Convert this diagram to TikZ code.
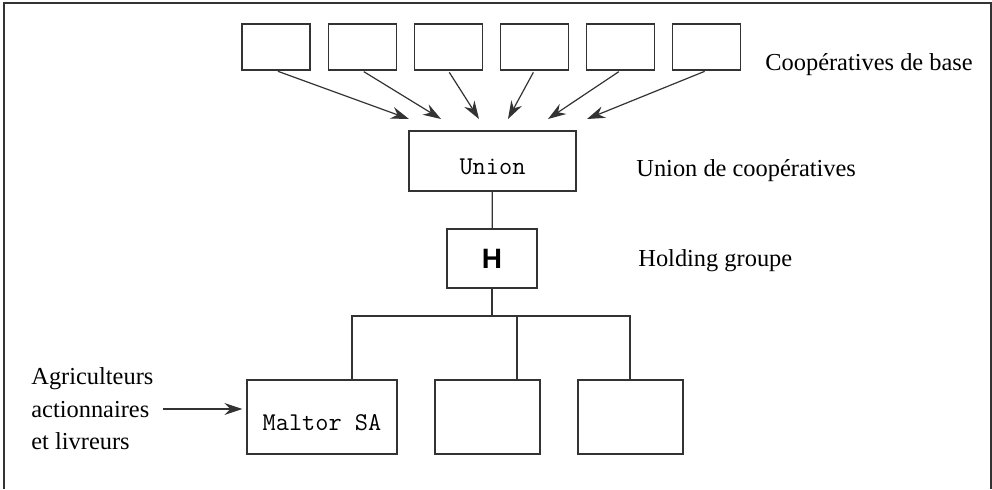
\documentclass[tikz,border=0pt]{standalone}
\usepackage{fontspec}
\setmainfont{Liberation Serif}
\setsansfont{Liberation Sans}
\usepackage{tikz}
\usetikzlibrary{arrows.meta}

\tikzset{
  box/.style={draw=black!80, line width=0.6pt, inner sep=0pt},
  link/.style={draw=black!80, line width=0.6pt},
  arr/.style={link, -{Stealth[length=9pt,width=6pt]}},
  lbl/.style={inner sep=0pt, font=\fontsize{12.2}{16.25}\selectfont},
  ttbox/.style={font=\ttfamily\fontsize{12.8}{14}\selectfont, text height=13.4pt, text depth=0pt}
}

\begin{document}
\begin{tikzpicture}[x=0.5pt,y=-0.5pt]
  \useasboundingbox (0,0) rectangle (992,489);
  \draw[link] (4,489) -- (4,3) -- (991,3) -- (991,489);

  % cooperatives de base
  \foreach \i/\e in {1/409,2/441,3/479,4/508,5/548,6/587} {
    \node[box, minimum width=34pt, minimum height=23pt] (Coop\i) at ({276+86.1*(\i-1)},47) {};
    \coordinate (End\i) at (\e,119);
    \draw[arr, shorten <=1pt] (Coop\i.south) -- (End\i);
  }

  \node[box, ttbox, minimum width=83.5pt, minimum height=30pt] (Union) at (492.5,161) {Union};
  \node[box, minimum width=45pt, minimum height=29.5pt, font=\sffamily\bfseries\fontsize{14}{16}\selectfont] (H) at (492,258.5) {H};

  \node[box, ttbox, minimum width=75pt, minimum height=37pt] (Maltor) at (322,417) {Maltor SA};
  \node[box, minimum width=52.5pt, minimum height=37pt] (Filiale2) at (487.5,417) {};
  \node[box, minimum width=52.5pt, minimum height=37pt] (Filiale3) at (630.5,417) {};

  \draw[link] (Union) -- (H);
  \coordinate (Br1) at (352,316);
  \coordinate (Br2) at (517,316);
  \coordinate (Br3) at (630,316);
  \draw[link] (H) -- (H |- Br1);
  \draw[link] (Br1 |- Maltor.north) -- (Br1) -- (Br3) -- (Br3 |- Filiale3.north);
  \draw[link] (Br2) -- (Br2 |- Filiale2.north);

  % labels
  \node[lbl, anchor=base west] (CoopLbl) at (765,70) {Coopératives de base};
  \node[lbl, anchor=base west] (UnionLbl) at (636,176) {Union de coopératives};
  \node[lbl, anchor=base west] (HLbl) at (638,266) {Holding groupe};
  \node[lbl, align=left, anchor=west] (Agri) at (31,409) {Agriculteurs\\actionnaires\\et livreurs};
  \draw[arr, shorten <=4.5pt, shorten >=2pt] (Agri.east) -- (Agri.east -| Maltor.west);
\end{tikzpicture}
\end{document}
